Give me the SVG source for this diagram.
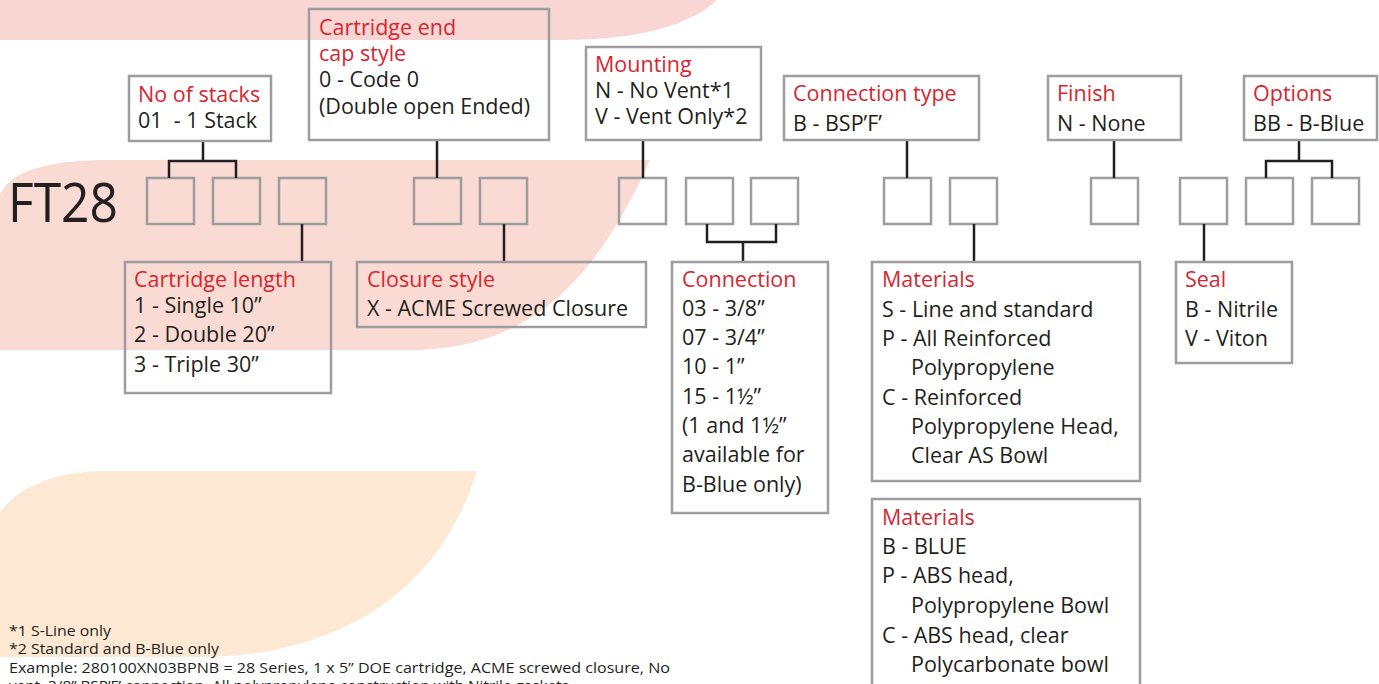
<svg xmlns="http://www.w3.org/2000/svg" width="1379" height="684" viewBox="0 0 1379 684">
<style>
.box{fill:none;stroke:#9d9d9f;stroke-width:2.5}
.sq{fill:none;stroke:#9d9d9f;stroke-width:2.5}
.con{fill:none;stroke:#231f20;stroke-width:2.5}
text{font-family:"Open Sans","Noto Sans","Liberation Sans",sans-serif;font-size:21.5px;fill:#231f20}
.t{fill:#d7262f}
.fn{font-size:15px}
</style>
<rect width="1379" height="684" fill="#ffffff"/>
<g id="background">
<path d="M0,0 H717 C690,25 640,40 560,40 H0 Z" fill="#f9d6d3"/>
<path d="M0,195 C10,170 50,160 110,160 H650 C600,270 540,345 420,350 H0 Z" fill="#fadbd3"/>
<path d="M0,512 C20,485 60,471 103,471 H477 C430,620 300,657 200,657 H0 Z" fill="#fde8d3"/>
</g>
<text id="title" x="8" y="222" font-size="54" textLength="110" lengthAdjust="spacingAndGlyphs" style="font-size:54px">FT28</text>
<g id="squares">
<rect class="sq" x="147" y="178" width="47" height="46"/>
<rect class="sq" x="213" y="178" width="47" height="46"/>
<rect class="sq" x="279" y="178" width="47" height="46"/>
<rect class="sq" x="414" y="178" width="47" height="46"/>
<rect class="sq" x="480" y="178" width="47" height="46"/>
<rect class="sq" x="619" y="178" width="47" height="46"/>
<rect class="sq" x="686" y="178" width="47" height="46"/>
<rect class="sq" x="751" y="178" width="47" height="46"/>
<rect class="sq" x="884" y="178" width="47" height="46"/>
<rect class="sq" x="950" y="178" width="47" height="46"/>
<rect class="sq" x="1091" y="178" width="47" height="46"/>
<rect class="sq" x="1180" y="178" width="47" height="46"/>
<rect class="sq" x="1246" y="178" width="47" height="46"/>
<rect class="sq" x="1312" y="178" width="47" height="46"/>
</g>
<g id="connectors">
<path class="con" d="M169,178 V161 H236 V178 M203,141 V161"/>
<path class="con" d="M302,224 V262"/>
<path class="con" d="M437,140 V178"/>
<path class="con" d="M504,224 V262"/>
<path class="con" d="M643,140 V178"/>
<path class="con" d="M707,224 V242 H776 V224 M743,242 V262"/>
<path class="con" d="M907,140 V178"/>
<path class="con" d="M974,224 V262"/>
<path class="con" d="M1114,140 V178"/>
<path class="con" d="M1204,224 V262"/>
<path class="con" d="M1266,178 V161 H1332 V178 M1299,140 V161"/>
</g>
<g id="stacks">
<rect class="box" x="129" y="76" width="142" height="65"/>
<text class="t" x="138" y="102">No of stacks</text>
<text x="138" y="128" xml:space="preserve">01  - 1 Stack</text>
</g>
<g id="endcap">
<rect class="box" x="309" y="9" width="240" height="131"/>
<text class="t" x="319" y="35">Cartridge end</text>
<text class="t" x="319" y="61">cap style</text>
<text x="319" y="87">0 - Code 0</text>
<text x="319" y="114">(Double open Ended)</text>
</g>
<g id="mounting">
<rect class="box" x="586" y="47" width="175" height="93"/>
<text class="t" x="595" y="72">Mounting</text>
<text x="595" y="98">N - No Vent*1</text>
<text x="595" y="124">V - Vent Only*2</text>
</g>
<g id="conntype">
<rect class="box" x="784" y="76" width="195" height="64"/>
<text class="t" x="793" y="101">Connection type</text>
<text x="793" y="131">B - BSP’F’</text>
</g>
<g id="finish">
<rect class="box" x="1048" y="76" width="133" height="64"/>
<text class="t" x="1057" y="101">Finish</text>
<text x="1057" y="131">N - None</text>
</g>
<g id="options">
<rect class="box" x="1244" y="76" width="133" height="64"/>
<text class="t" x="1253" y="101">Options</text>
<text x="1253" y="131">BB - B-Blue</text>
</g>
<g id="length">
<rect class="box" x="125" y="262" width="206" height="131"/>
<text class="t" x="134" y="287">Cartridge length</text>
<text x="134" y="313">1 - Single 10”</text>
<text x="134" y="342">2 - Double 20”</text>
<text x="134" y="372">3 - Triple 30”</text>
</g>
<g id="closure">
<rect class="box" x="357" y="262" width="289" height="65"/>
<text class="t" x="367" y="287">Closure style</text>
<text x="367" y="316">X - ACME Screwed Closure</text>
</g>
<g id="connection">
<rect class="box" x="672" y="262" width="156" height="251"/>
<text class="t" x="682" y="287">Connection</text>
<text x="682" y="316">03 - 3/8”</text>
<text x="682" y="345">07 - 3/4”</text>
<text x="682" y="374">10 - 1”</text>
<text x="682" y="404">15 - 1½”</text>
<text x="682" y="433">(1 and 1½”</text>
<text x="682" y="462">available for</text>
<text x="682" y="492">B-Blue only)</text>
</g>
<g id="materials1">
<rect class="box" x="872" y="262" width="268" height="219"/>
<text class="t" x="882" y="287">Materials</text>
<text x="882" y="317">S - Line and standard</text>
<text x="882" y="346">P - All Reinforced</text>
<text x="911" y="375">Polypropylene</text>
<text x="882" y="405">C - Reinforced</text>
<text x="911" y="434">Polypropylene Head,</text>
<text x="911" y="463">Clear AS Bowl</text>
</g>
<g id="seal">
<rect class="box" x="1176" y="262" width="116" height="101"/>
<text class="t" x="1185" y="287">Seal</text>
<text x="1185" y="317">B - Nitrile</text>
<text x="1185" y="346">V - Viton</text>
</g>
<g id="materials2">
<rect class="box" x="872" y="499" width="268" height="200"/>
<text class="t" x="882" y="525">Materials</text>
<text x="882" y="554">B - BLUE</text>
<text x="882" y="583">P - ABS head,</text>
<text x="911" y="613">Polypropylene Bowl</text>
<text x="882" y="643">C - ABS head, clear</text>
<text x="911" y="672">Polycarbonate bowl</text>
</g>
<g id="footnotes">
<text class="fn" x="9" y="636" textLength="102" lengthAdjust="spacingAndGlyphs">*1 S-Line only</text>
<text class="fn" x="9" y="654" textLength="210" lengthAdjust="spacingAndGlyphs">*2 Standard and B-Blue only</text>
<text class="fn" x="9" y="673" textLength="661" lengthAdjust="spacingAndGlyphs">Example: 280100XN03BPNB = 28 Series, 1 x 5” DOE cartridge, ACME screwed closure, No</text>
<text class="fn" x="9" y="691" textLength="560" lengthAdjust="spacingAndGlyphs">vent, 3/8” BSP’F’ connection. All polypropylene construction with Nitrile gaskets</text>
</g>
</svg>
